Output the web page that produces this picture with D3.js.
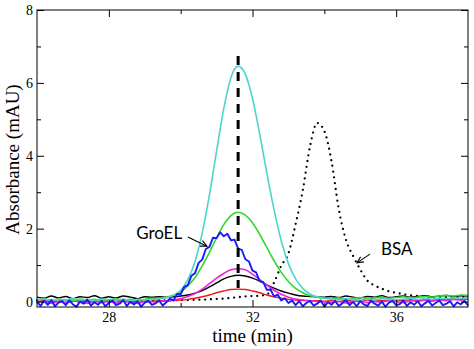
<!DOCTYPE html>
<html>
<head>
<meta charset="utf-8">
<script src="https://cdn.jsdelivr.net/npm/d3@7"></script>
<style>
  html, body { margin: 0; padding: 0; background: #fff; }
  svg { display: block; }
</style>
</head>
<body>
<svg id="chart" width="474" height="349"></svg>
<script>
// ---------------- DATA ----------------
const timeCoarse = [26,26.2,26.4,26.6,26.8,27,27.2,27.4,27.6,27.8,28,28.2,28.4,28.6,28.8,29,29.2,29.4,29.6,29.8,30,30.2,30.4,30.6,30.8,31,31.2,31.4,31.6,31.8,32,32.2,32.4,32.6,32.8,33,33.2,33.4,33.6,33.8,34,34.2,34.4,34.6,34.8,35,35.2,35.4,35.6,35.8,36,36.2,36.4,36.6,36.8,37,37.2,37.4,37.6,37.8,38];

const timeFine = [26,26.1,26.2,26.3,26.4,26.5,26.6,26.7,26.8,26.9,
  27,27.1,27.2,27.3,27.4,27.5,27.6,27.7,27.8,27.9,
  28,28.1,28.2,28.3,28.4,28.5,28.6,28.7,28.8,28.9,
  29,29.1,29.2,29.3,29.4,29.5,29.6,29.7,29.8,29.9,
  30,30.1,30.2,30.3,30.4,30.5,30.6,30.7,30.8,30.9,
  31,31.1,31.2,31.3,31.4,31.5,31.6,31.7,31.8,31.9,
  32,32.1,32.2,32.3,32.4,32.5,32.6,32.7,32.8,32.9,
  33,33.1,33.2,33.3,33.4,33.5,33.6,33.7,33.8,33.9,
  34,34.1,34.2,34.3,34.4,34.5,34.6,34.7,34.8,34.9,
  35,35.1,35.2,35.3,35.4,35.5,35.6,35.7,35.8,35.9,
  36,36.1,36.2,36.3,36.4,36.5,36.6,36.7,36.8,36.9,
  37,37.1,37.2,37.3,37.4,37.5,37.6,37.7,37.8,37.9,38];

const bsaDotted = [0.03,0.03,0.03,0.03,0.03,0.03,0.03,0.03,0.03,0.03,0.03,0.03,0.03,0.03,0.03,0.03,0.03,0.03,0.03,0.03,
  0.04,0.04,0.05,0.05,0.06,0.07,0.08,0.10,0.12,0.14,0.15,0.16,0.19,0.52,0.98,1.32,2.12,3.05,4.25,4.90,
  4.68,3.85,2.55,1.70,1.25,0.88,0.57,0.44,0.35,0.28,0.24,0.20,0.17,0.15,0.14,0.13,0.13,0.12,0.12,0.12,0.12];

const redTrace = [0.00,0.02,-0.01,0.01,0.03,0.00,0.02,-0.01,0.01,0.03,0.00,0.02,0.01,-0.01,0.02,0.01,
  0.01,0.02,0.02,0.03,0.04,0.06,0.09,0.13,0.18,0.24,0.29,0.33,0.34,
  0.33,0.29,0.24,0.18,0.13,0.09,0.06,0.04,0.03,0.02,0.02,0.01,
  0.02,0.00,0.03,0.01,0.02,0.04,0.01,0.03,0.02,0.04,0.03,0.05,0.03,0.06,0.04,0.06,0.05,0.07,0.06,0.07];

const blackTrace = [0.12,0.09,0.15,0.10,0.14,0.08,0.13,0.11,0.16,0.09,0.13,0.10,0.15,0.12,0.08,0.13,
  0.12,0.13,0.12,0.13,0.15,0.18,0.23,0.30,0.40,0.51,0.62,0.69,0.72,
  0.70,0.64,0.56,0.46,0.37,0.29,0.23,0.18,0.15,0.14,0.13,0.12,
  0.14,0.11,0.15,0.12,0.10,0.14,0.12,0.16,0.11,0.13,0.15,0.12,0.14,0.16,0.13,0.15,0.17,0.14,0.16,0.15];

const magentaTrace = [-0.03,0.01,-0.05,0.00,-0.04,0.02,-0.02,-0.05,0.01,-0.03,0.00,-0.04,0.02,-0.02,-0.05,0.00,
  -0.01,0.00,0.02,0.04,0.08,0.14,0.22,0.34,0.49,0.64,0.77,0.87,0.90,
  0.87,0.75,0.60,0.45,0.31,0.20,0.12,0.07,0.04,0.02,0.00,-0.01,
  -0.03,0.00,-0.04,-0.01,0.02,-0.03,0.00,-0.02,0.03,0.00,-0.03,0.02,0.01,0.04,0.01,0.05,0.02,0.06,0.04,0.07];

const greenTrace = [0.04,0.07,0.03,0.06,0.05,0.02,0.07,0.04,0.06,0.03,0.05,0.07,0.04,0.06,0.03,0.06,
  0.08,0.09,0.12,0.17,0.27,0.43,0.66,0.98,1.35,1.75,2.11,2.36,2.45,
  2.37,2.16,1.84,1.48,1.12,0.80,0.55,0.36,0.24,0.16,0.12,0.09,
  0.08,0.10,0.07,0.09,0.11,0.08,0.10,0.12,0.09,0.11,0.13,0.10,0.12,0.14,0.12,0.15,0.17,0.15,0.18,0.17];

const cyanTrace = [0.05,0.07,0.03,0.06,0.04,0.08,0.04,0.06,0.03,0.07,0.05,0.04,0.07,0.03,0.06,0.05,
  0.06,0.07,0.10,0.17,0.31,0.60,1.10,1.88,2.92,4.13,5.29,6.15,6.46,
  6.24,5.57,4.60,3.52,2.52,1.67,1.04,0.62,0.36,0.21,0.13,0.09,
  0.07,0.05,0.08,0.06,0.04,0.07,0.05,0.08,0.06,0.05,0.07,0.09,0.06,0.08,0.07,0.09,0.08,0.10,0.09,0.10];

const groelTrace = [-0.01,-0.12,0.02,-0.09,0.04,-0.13,-0.03,0.01,-0.10,0.03,
  -0.08,-0.14,0.00,-0.06,0.05,-0.11,-0.02,-0.09,0.02,-0.13,
  -0.04,0.03,-0.10,-0.06,0.04,-0.12,-0.01,-0.08,0.01,-0.14,
  -0.03,0.02,-0.09,-0.05,0.03,-0.11,
  -0.02,0.08,0.03,0.21,0.20,0.40,0.45,0.71,0.78,1.06,1.15,1.44,1.50,1.75,
  1.74,1.90,1.79,1.86,1.68,1.70,1.45,1.42,1.16,1.10,0.85,0.80,0.56,0.53,0.32,0.33,
  0.14,0.19,0.03,0.09,-0.04,0.03,
  -0.10,0.01,-0.13,-0.04,0.02,-0.11,-0.06,0.03,-0.14,-0.02,
  -0.09,0.02,-0.12,-0.05,0.04,-0.10,-0.01,-0.13,0.01,-0.08,
  -0.12,0.03,-0.06,-0.11,0.00,-0.14,-0.03,0.02,-0.10,-0.07,
  0.03,-0.12,-0.02,-0.09,0.01,-0.13,-0.05,0.02,-0.11,-0.04,
  0.03,-0.10,-0.06,0.01,-0.13,-0.02,-0.08,0.02,-0.11];

const xMajorTicks = [28, 32, 36];
const xMinorTicks = [30, 34];
const yMajorTicks = [0, 2, 4, 6, 8];
const yMinorTicks = [1, 3, 5, 7];

const peakMarker = { time: 31.6, from: 0.37, to: 6.74 };
const annotations = [
  { label: "GroEL", tx: 28.76, ty: 1.72, from: [30.20, 1.77], to: [30.73, 1.52] },
  { label: "BSA",   tx: 35.58, ty: 1.28, from: [35.27, 1.30], to: [34.91, 1.06] }
];

// ---------------- CHART ----------------
const SERIF = '"Liberation Serif", "Times New Roman", Tinos, "DejaVu Serif", serif';
const SANS = 'Lato, "Open Sans", sans-serif';

const svg = d3.select("#chart");
const x = d3.scaleLinear().domain([26, 38]).range([37, 468]);
const y = d3.scaleLinear().domain([-0.15, 8]).range([307, 10]);

const smooth = d3.line().x(d => x(d[0])).y(d => y(d[1])).curve(d3.curveMonotoneX);
const jagged = d3.line().x(d => x(d[0])).y(d => y(d[1]));

const pair = (ts, vs) => ts.map((t, i) => [t, vs[i]]);

const plot = svg.append("g");

plot.append("path").datum(pair(timeCoarse, bsaDotted))
  .attr("d", smooth).attr("fill", "none").attr("stroke", "#000")
  .attr("stroke-width", 2.3).attr("stroke-linecap", "round")
  .attr("stroke-dasharray", "0 5.8");

const solid = [
  { vals: redTrace, color: "#e81a1a", w: 1.4 },
  { vals: blackTrace, color: "#000000", w: 1.4 },
  { vals: magentaTrace, color: "#ee22dd", w: 1.6 },
  { vals: greenTrace, color: "#2ed82e", w: 1.6 },
  { vals: cyanTrace, color: "#4fd4cc", w: 1.6 }
];
solid.forEach(s => {
  plot.append("path").datum(pair(timeCoarse, s.vals))
    .attr("d", smooth).attr("fill", "none")
    .attr("stroke", s.color).attr("stroke-width", s.w);
});

plot.append("path").datum(pair(timeFine, groelTrace))
  .attr("d", jagged).attr("fill", "none")
  .attr("stroke", "#1a1aff").attr("stroke-width", 1.9)
  .attr("stroke-linejoin", "round");

plot.append("line")
  .attr("x1", x(peakMarker.time)).attr("x2", x(peakMarker.time))
  .attr("y1", y(peakMarker.to)).attr("y2", y(peakMarker.from))
  .attr("stroke", "#000").attr("stroke-width", 3)
  .attr("stroke-dasharray", "9 7");

// annotations
const ann = svg.append("g");
annotations.forEach(a => {
  ann.append("text").attr("x", x(a.tx)).attr("y", y(a.ty))
    .style("font-family", SANS).style("font-size", "17px").attr("fill", "#000").text(a.label);
  const x1 = x(a.from[0]), y1 = y(a.from[1]), x2 = x(a.to[0]), y2 = y(a.to[1]);
  ann.append("line").attr("x1", x1).attr("y1", y1).attr("x2", x2).attr("y2", y2)
    .attr("stroke", "#000").attr("stroke-width", 1.1);
  const ang = Math.atan2(y2 - y1, x2 - x1);
  const L = 7, spread = 0.45;
  const p1 = [x2 - L * Math.cos(ang - spread), y2 - L * Math.sin(ang - spread)];
  const p2 = [x2 - L * Math.cos(ang + spread), y2 - L * Math.sin(ang + spread)];
  ann.append("path").attr("d", `M${p1[0]},${p1[1]}L${x2},${y2}L${p2[0]},${p2[1]}`)
    .attr("fill", "none").attr("stroke", "#000").attr("stroke-width", 1.1);
});

// frame
svg.append("rect").attr("x", 37).attr("y", 10)
  .attr("width", x(38) - x(26)).attr("height", y(-0.15) - y(8))
  .attr("fill", "none").attr("stroke", "#000").attr("stroke-width", 1);

function styleAxis(g) {
  g.attr("font-family", null).attr("font-size", null);
  g.select(".domain").remove();
  g.selectAll(".tick line").attr("stroke", "#000");
  g.selectAll("text").style("font-family", SERIF).style("font-size", "14px").attr("fill", "#000");
}

const H = y(-0.15), T = y(8), Lx = x(26), R = x(38);

svg.append("g").attr("transform", `translate(0,${H})`)
  .call(d3.axisBottom(x).tickValues(xMajorTicks).tickSize(-7).tickPadding(5).tickFormat(d3.format("d")))
  .call(styleAxis);
svg.append("g").attr("transform", `translate(0,${H})`)
  .call(d3.axisBottom(x).tickValues(xMinorTicks).tickSize(-4).tickFormat(""))
  .call(styleAxis);
svg.append("g").attr("transform", `translate(0,${T})`)
  .call(d3.axisTop(x).tickValues(xMajorTicks).tickSize(-7).tickFormat(""))
  .call(styleAxis);
svg.append("g").attr("transform", `translate(0,${T})`)
  .call(d3.axisTop(x).tickValues(xMinorTicks).tickSize(-4).tickFormat(""))
  .call(styleAxis);

svg.append("g").attr("transform", `translate(${Lx},0)`)
  .call(d3.axisLeft(y).tickValues(yMajorTicks).tickSize(-7).tickPadding(4).tickFormat(d3.format("d")))
  .call(styleAxis);
svg.append("g").attr("transform", `translate(${Lx},0)`)
  .call(d3.axisLeft(y).tickValues(yMinorTicks).tickSize(-4).tickFormat(""))
  .call(styleAxis);
svg.append("g").attr("transform", `translate(${R},0)`)
  .call(d3.axisRight(y).tickValues(yMajorTicks).tickSize(-7).tickFormat(""))
  .call(styleAxis);
svg.append("g").attr("transform", `translate(${R},0)`)
  .call(d3.axisRight(y).tickValues(yMinorTicks).tickSize(-4).tickFormat(""))
  .call(styleAxis);

// axis titles
svg.append("text").attr("x", (Lx + R) / 2).attr("y", 342)
  .attr("text-anchor", "middle").style("font-family", SERIF).style("font-size", "19px")
  .text("time (min)");
svg.append("text").attr("transform", `translate(19,${(T + H) / 2 + 1}) rotate(-90)`)
  .attr("text-anchor", "middle").style("font-family", SERIF).style("font-size", "19px")
  .text("Absorbance (mAU)");
</script>
</body>
</html>
